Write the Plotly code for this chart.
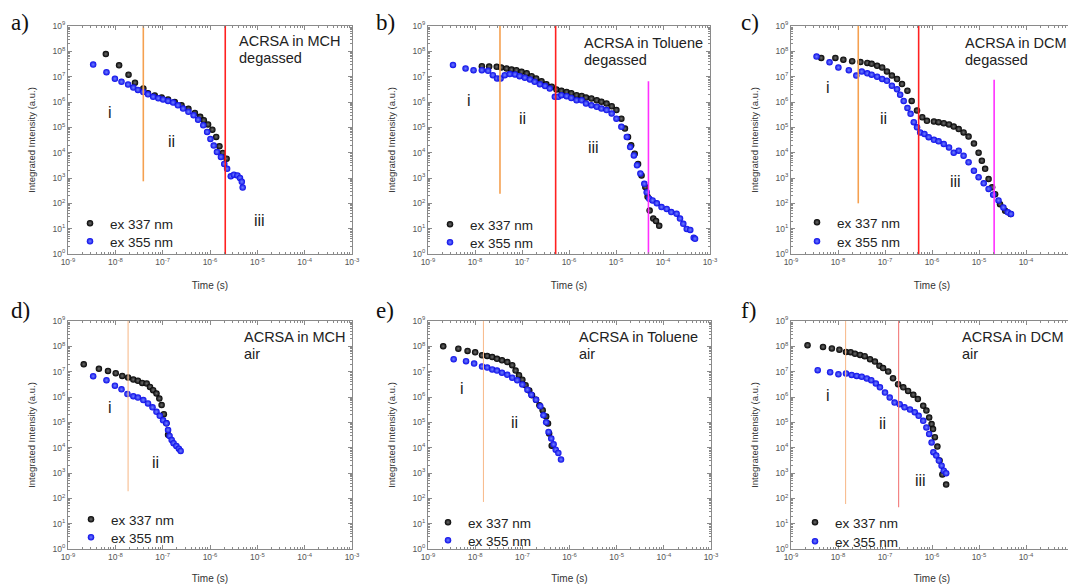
import plotly.graph_objects as go

# The page body has an 8px margin, so the figure is drawn 8px smaller and
# reference pixel positions are shifted by OFF.
OFF = 8
W, H = 1076 - OFF, 584 - OFF

# ---------------- data (time in s, integrated intensity in a.u.) ----------------
# a) ACRSA in MCH, degassed
t_a337 = [6.3e-9, 1.2e-8, 1.9e-8, 2.6e-8, 3.9e-8, 4.9e-8, 6.8e-8, 9.5e-8, 1.3e-7, 1.8e-7, 2.5e-7,
          3.5e-7, 4.8e-7, 6.2e-7, 7.4e-7, 9.1e-7, 1.12e-6, 1.35e-6, 1.58e-6, 1.86e-6, 2.24e-6]
I_a337 = [7.8e7, 2.8e7, 1.2e7, 5.8e6, 3.4e6, 2.2e6, 1.8e6, 1.5e6, 1.26e6, 1.0e6, 7.4e5,
          5.4e5, 3.7e5, 2.6e5, 1.9e5, 1.3e5, 8.1e4, 4.2e4, 1.8e4, 9.8e3, 5.8e3]
t_a355 = [3.4e-9, 6.5e-9, 9.8e-9, 1.35e-8, 1.86e-8, 2.4e-8, 3.0e-8, 3.9e-8, 4.9e-8, 6.3e-8, 8.1e-8,
          1.02e-7, 1.3e-7, 1.66e-7, 2.1e-7, 2.7e-7, 3.5e-7, 4.5e-7, 5.6e-7, 7.2e-7, 8.7e-7, 1.02e-6,
          1.2e-6, 1.4e-6, 1.7e-6, 2.0e-6, 2.3e-6, 2.75e-6, 3.2e-6, 3.8e-6, 4.3e-6, 4.7e-6, 4.9e-6]
I_a355 = [3.0e7, 1.5e7, 8.3e6, 6.3e6, 4.9e6, 3.7e6, 3.0e6, 2.5e6, 2.0e6, 1.6e6, 1.4e6,
          1.26e6, 1.1e6, 9.5e5, 7.4e5, 5.5e5, 4.1e5, 3.0e5, 2.0e5, 1.2e5, 6.6e4, 3.5e4,
          1.9e4, 1.07e4, 6.8e3, 3.6e3, 2.3e3, 1.17e3, 1.35e3, 1.26e3, 1.0e3, 7.1e2, 4.2e2]

# b) ACRSA in Toluene, degassed
t_b337 = [1.4e-8, 2.0e-8, 2.9e-8, 3.6e-8, 4.7e-8, 6.0e-8, 7.6e-8, 9.8e-8, 1.26e-7, 1.6e-7, 2.0e-7,
          2.6e-7, 3.3e-7, 4.3e-7, 5.4e-7, 6.9e-7, 8.9e-7, 1.12e-6, 1.45e-6, 1.86e-6, 2.3e-6, 3.0e-6,
          3.9e-6, 4.9e-6, 6.3e-6, 8.1e-6, 1.02e-5, 1.3e-5, 1.55e-5, 1.8e-5, 2.1e-5, 2.5e-5, 2.95e-5,
          3.5e-5, 4.2e-5, 4.7e-5, 5.2e-5, 6.2e-5, 7.1e-5, 8.3e-5]
I_b337 = [2.6e7, 2.5e7, 2.45e7, 2.3e7, 2.1e7, 1.9e7, 1.8e7, 1.55e7, 1.35e7, 1.05e7, 8.5e6,
          6.6e6, 5.0e6, 4.0e6, 3.1e6, 2.75e6, 2.5e6, 2.2e6, 1.86e6, 1.74e6, 1.5e6, 1.38e6,
          1.17e6, 1.02e6, 8.7e5, 6.8e5, 4.8e5, 2.2e5, 8.9e4, 4.2e4, 1.95e4, 9.1e3, 3.6e3,
          1.26e3, 4.4e2, 1.8e2, 52, 25, 20, 13]
t_b355 = [3.4e-9, 6.3e-9, 9.3e-9, 1.4e-8, 1.9e-8, 2.4e-8, 2.95e-8, 3.5e-8, 4.3e-8, 5.5e-8, 7.1e-8,
          8.9e-8, 1.15e-7, 1.48e-7, 1.86e-7, 2.4e-7, 3.1e-7, 3.9e-7, 5.0e-7, 5.9e-7, 6.9e-7, 8.9e-7,
          1.12e-6, 1.45e-6, 1.86e-6, 2.3e-6, 3.0e-6, 3.9e-6, 4.9e-6, 6.3e-6, 8.1e-6, 1.02e-5, 1.3e-5,
          1.7e-5, 2.0e-5, 2.4e-5, 2.8e-5, 3.3e-5, 4.0e-5, 4.5e-5, 5.1e-5, 6.0e-5, 7.4e-5, 9.3e-5,
          1.2e-4, 1.5e-4, 1.95e-4, 2.3e-4, 2.7e-4, 3.2e-4, 3.8e-4, 4.5e-4, 4.8e-4]
I_b355 = [2.9e7, 2.1e7, 1.8e7, 1.8e7, 1.7e7, 1.15e7, 8.5e6, 8.5e6, 1.15e7, 1.26e7, 1.23e7,
          1.05e7, 9.1e6, 7.8e6, 6.3e6, 5.0e6, 4.3e6, 3.4e6, 1.6e6, 1.6e6, 1.86e6, 1.7e6,
          1.45e6, 1.17e6, 1.17e6, 8.7e5, 7.4e5, 6.5e5, 5.5e5, 4.8e5, 3.5e5, 2.2e5, 1.05e5,
          4.2e4, 1.66e4, 7.8e3, 3.2e3, 1.5e3, 5.9e2, 2.75e2, 1.5e2, 1.3e2, 1.0e2, 71,
          60, 45, 39, 25, 15.5, 9.8, 8.9, 4.4, 4.0]

# c) ACRSA in DCM, degassed
t_c337 = [4.4e-9, 8.8e-9, 1.3e-8, 2.0e-8, 3.0e-8, 4.2e-8, 5.2e-8, 6.8e-8, 8.7e-8, 1.1e-7, 1.4e-7,
          1.8e-7, 2.3e-7, 3.0e-7, 3.7e-7, 4.8e-7, 6.2e-7, 7.8e-7, 1.1e-6, 1.38e-6, 1.78e-6, 2.3e-6,
          2.9e-6, 3.7e-6, 4.7e-6, 6.0e-6, 7.8e-6, 9.8e-6, 1.15e-5, 1.35e-5, 1.6e-5, 1.9e-5, 2.2e-5,
          2.8e-5, 3.6e-5, 4.7e-5]
I_c337 = [5.5e7, 5.5e7, 4.7e7, 4.1e7, 3.8e7, 3.5e7, 3.2e7, 2.7e7, 2.3e7, 1.6e7, 1.1e7,
          8.1e6, 5.1e6, 2.8e6, 1.1e6, 4.6e5, 2.5e5, 1.8e5, 1.7e5, 1.6e5, 1.45e5, 1.3e5,
          1.07e5, 8.5e4, 6.3e4, 4.3e4, 2.3e4, 1.0e4, 4.8e3, 2.3e3, 9.1e2, 4.3e2, 2.3e2,
          93, 51, 38]
t_c355 = [3.5e-9, 6.6e-9, 1.02e-8, 1.7e-8, 2.45e-8, 3.2e-8, 4.2e-8, 5.2e-8, 6.8e-8, 8.7e-8, 1.1e-7,
          1.4e-7, 1.8e-7, 2.1e-7, 2.5e-7, 3.0e-7, 3.5e-7, 4.1e-7, 4.8e-7, 5.6e-7, 6.9e-7, 8.5e-7,
          1.1e-6, 1.38e-6, 1.78e-6, 2.3e-6, 2.9e-6, 3.7e-6, 4.7e-6, 6.0e-6, 7.8e-6, 9.8e-6, 1.26e-5,
          1.6e-5, 2.0e-5, 2.6e-5, 3.3e-5, 4.1e-5, 4.8e-5]
I_c355 = [6.2e7, 3.7e7, 2.3e7, 1.8e7, 1.1e7, 1.6e7, 1.35e7, 1.2e7, 1.0e7, 8.1e6, 6.9e6,
          4.4e6, 3.2e6, 1.95e6, 1.1e6, 5.8e5, 3.4e5, 1.6e5, 1.0e5, 6.3e4, 5.5e4, 4.1e4,
          3.2e4, 2.8e4, 2.2e4, 1.6e4, 1.0e4, 1.2e4, 7.6e3, 4.2e3, 1.95e3, 1.07e3, 6.2e2,
          3.7e2, 2.2e2, 1.3e2, 69, 44, 38]

# d) ACRSA in MCH, air
t_d337 = [2.15e-9, 4.5e-9, 7.0e-9, 1.02e-8, 1.4e-8, 1.86e-8, 2.4e-8, 3.0e-8, 3.7e-8, 4.6e-8, 5.4e-8,
          6.3e-8, 7.4e-8, 8.5e-8, 9.5e-8, 1.06e-7, 1.2e-7, 1.3e-7]
I_d337 = [1.95e7, 1.3e7, 1.07e7, 8.7e6, 6.8e6, 5.9e6, 4.9e6, 4.4e6, 3.6e6, 3.4e6, 2.5e6,
          1.86e6, 1.38e6, 8.7e5, 4.8e5, 2.1e5, 9.1e4, 3.2e4]
t_d355 = [3.4e-9, 6.5e-9, 9.8e-9, 1.35e-8, 1.8e-8, 2.4e-8, 3.0e-8, 3.9e-8, 4.9e-8, 6.1e-8, 7.4e-8,
          8.7e-8, 1.02e-7, 1.2e-7, 1.3e-7, 1.4e-7, 1.55e-7, 1.7e-7, 1.95e-7, 2.2e-7, 2.4e-7]
I_d355 = [6.6e6, 4.6e6, 2.8e6, 2.0e6, 1.3e6, 1.07e6, 9.5e5, 7.6e5, 5.6e5, 3.9e5, 2.6e5,
          1.8e5, 1.2e5, 9.1e4, 5.0e4, 2.9e4, 2.0e4, 1.5e4, 1.17e4, 9.1e3, 7.4e3]

# e) ACRSA in Toluene, air
t_e337 = [2.1e-9, 4.4e-9, 6.9e-9, 1.0e-8, 1.4e-8, 1.8e-8, 2.3e-8, 2.9e-8, 3.7e-8, 4.8e-8, 6.1e-8,
          7.2e-8, 8.5e-8, 1.0e-7, 1.17e-7, 1.4e-7, 1.6e-7, 1.95e-7, 2.3e-7, 2.7e-7, 3.2e-7,
          3.5e-7, 3.7e-7, 4.2e-7]
I_e337 = [1.0e8, 8.1e7, 6.6e7, 5.8e7, 4.4e7, 4.2e7, 3.8e7, 3.2e7, 2.8e7, 2.4e7, 1.8e7,
          1.1e7, 7.2e6, 4.8e6, 2.9e6, 1.8e6, 1.17e6, 7.8e5, 4.7e5, 3.0e5, 1.7e5,
          8.9e4, 3.6e4, 1.2e4]
t_e355 = [3.5e-9, 6.4e-9, 9.5e-9, 1.4e-8, 1.8e-8, 2.3e-8, 2.9e-8, 3.7e-8, 4.8e-8, 6.1e-8, 7.8e-8,
          1.0e-7, 1.28e-7, 1.55e-7, 1.95e-7, 2.4e-7, 2.8e-7, 3.2e-7, 3.6e-7, 4.1e-7, 4.6e-7,
          5.1e-7, 5.8e-7, 6.6e-7]
I_e355 = [3.1e7, 2.6e7, 2.1e7, 1.6e7, 1.45e7, 1.23e7, 1.1e7, 9.1e6, 7.6e6, 5.8e6, 4.6e6,
          3.1e6, 1.95e6, 1.23e6, 7.8e5, 4.3e5, 1.9e5, 1.0e5, 4.2e4, 2.3e4, 1.35e4,
          8.3e3, 6.2e3, 3.4e3]

# f) ACRSA in DCM, air
t_f337 = [2.25e-9, 4.8e-9, 7.4e-9, 1.07e-8, 1.48e-8, 1.86e-8, 2.3e-8, 2.95e-8, 3.7e-8, 4.8e-8, 6.1e-8,
          7.6e-8, 9.1e-8, 1.17e-7, 1.48e-7, 1.9e-7, 2.45e-7, 3.1e-7, 4.0e-7, 5.0e-7, 6.5e-7,
          7.6e-7, 8.7e-7, 9.8e-7, 1.05e-6, 1.15e-6, 1.3e-6, 1.45e-6, 1.66e-6, 2.0e-6]
I_f337 = [1.1e8, 9.5e7, 8.3e7, 7.4e7, 6.0e7, 5.9e7, 5.1e7, 4.6e7, 4.1e7, 3.1e7, 2.5e7,
          1.7e7, 1.38e7, 1.02e7, 5.5e6, 3.2e6, 2.4e6, 1.74e6, 1.23e6, 8.3e5, 4.5e5,
          2.9e5, 1.55e5, 8.5e4, 5.4e4, 2.6e4, 1.1e4, 3.1e3, 8.7e2, 3.5e2]
t_f355 = [3.7e-9, 6.8e-9, 1.02e-8, 1.48e-8, 1.95e-8, 2.5e-8, 3.2e-8, 4.1e-8, 5.1e-8, 6.4e-8, 7.8e-8,
          1.0e-7, 1.26e-7, 1.6e-7, 2.05e-7, 2.6e-7, 3.4e-7, 4.3e-7, 5.2e-7, 6.5e-7, 7.6e-7,
          8.7e-7, 9.8e-7, 1.07e-6, 1.23e-6, 1.4e-6, 1.6e-6, 1.78e-6, 2.0e-6]
I_f355 = [1.15e7, 9.5e6, 7.9e6, 8.5e6, 7.4e6, 6.8e6, 6.3e6, 5.4e6, 4.6e6, 3.4e6, 2.4e6,
          1.5e6, 9.5e5, 6.0e5, 5.2e5, 3.9e5, 3.2e5, 2.5e5, 1.8e5, 1.15e5, 6.3e4,
          3.5e4, 1.6e4, 6.6e3, 4.9e3, 3.1e3, 1.95e3, 1.23e3, 9.8e2]

# region boundaries: (time, lower intensity end, upper intensity end)
bound_a = [(3.9e-8, 7.4e2, 1e9), (2.1e-6, 1, 1e9)]
bound_b = [(3.4e-8, 2.4e2, 1e9), (5.2e-7, 1, 1e9), (4.9e-5, 1, 6.6e6)]
bound_c = [(2.7e-8, 1.0e2, 1e9), (5.2e-7, 1, 1e9), (2.1e-5, 1, 7.6e6)]
bound_d = [(1.86e-8, 1.9e2, 1e9)]
bound_e = [(1.5e-8, 72, 1e9)]
bound_f = [(1.45e-8, 60, 1e9), (1.95e-7, 44, 1e9)]

titles = [("ACRSA in MCH", "degassed"), ("ACRSA in Toluene", "degassed"), ("ACRSA in DCM", "degassed"),
          ("ACRSA in MCH", "air"), ("ACRSA in Toluene", "air"), ("ACRSA in DCM", "air")]
panel_letters = ["a)", "b)", "c)", "d)", "e)", "f)"]
region_labels = [["i", "ii", "iii"], ["i", "ii", "iii"], ["i", "ii", "iii"],
                 ["i", "ii"], ["i", "ii"], ["i", "ii", "iii"]]
series_names = ["ex 337 nm", "ex 355 nm"]
x_exps = list(range(-9, -2))
y_exps = list(range(0, 10))

# ---------------- styling / layout ----------------
LINE_COLS = {
    "a": ["#f5a050", "#ff2020"],
    "b": ["#f5a050", "#ff2020", "#ff30ff"],
    "c": ["#f5a050", "#ff2020", "#ff30ff"],
    "d": ["#f8bd90"],
    "e": ["#f8bd90"],
    "f": ["#f8bd90", "#f27a7a"],
}
# reference pixel boxes of plot areas: (x0, x1, ytop, ybottom)
boxes = [(68, 352, 26, 254), (428, 710, 26, 254), (791, 1073, 26, 254),
         (68, 352, 321, 549), (428, 711, 321, 549), (791, 1073, 321, 549)]
# reference pixel positions of text elements
title_pos = [(237, 41), (582, 43), (963, 43), (242, 337), (577, 337), (960, 337)]  # first-line centre
TITLE_GAP = 17
letter_pos = [(9, 22), (374, 22), (739, 22), (9, 310), (374, 310), (739, 310)]
region_pos = [[(110, 113), (172, 142), (259, 220)],
              [(469, 100), (522, 118), (593, 147)],
              [(828, 88), (883, 118), (955, 182)],
              [(110, 407), (155, 462)],
              [(462, 388), (514, 422)],
              [(828, 395), (882, 423), (920, 480)]]
# legend symbol centres of the two legend rows
legend_pos = [[(90, 220), (90, 238)], [(450, 221), (450, 239)], [(817, 219), (817, 238)],
              [(91, 516), (91, 534)], [(448, 519), (448, 537)], [(815, 519), (815, 538)]]


def px(x):
    return (x - OFF) / W


def py(y):
    return 1 - (y - OFF) / H


data = [
    ("a", t_a337, I_a337, t_a355, I_a355, bound_a),
    ("b", t_b337, I_b337, t_b355, I_b355, bound_b),
    ("c", t_c337, I_c337, t_c355, I_c355, bound_c),
    ("d", t_d337, I_d337, t_d355, I_d355, bound_d),
    ("e", t_e337, I_e337, t_e355, I_e355, bound_e),
    ("f", t_f337, I_f337, t_f355, I_f355, bound_f),
]

SANS = "Liberation Sans, Arial, sans-serif"
SERIF = "Liberation Serif, Times New Roman, serif"

marker_black = dict(size=6.5, color="#000000", line=dict(width=0),
                    gradient=dict(type="radial", color="#6e6e6e"))
marker_blue = dict(size=6.5, color="#0a0ae8", line=dict(width=0),
                   gradient=dict(type="radial", color="#7080ff"))

fig = go.Figure()
layout = dict(width=W, height=H, margin=dict(l=0, r=0, t=0, b=0, autoexpand=False),
              paper_bgcolor="white", plot_bgcolor="white", showlegend=True)
annotations = []

x_minor = [m * 10.0 ** k for k in range(-9, -3) for m in range(2, 10)]
y_minor = [m * 10.0 ** k for k in range(0, 9) for m in range(2, 10)]

for i, (key, t1, I1, t2, I2, bounds) in enumerate(data):
    n = "" if i == 0 else str(i + 1)
    xa, ya = "x" + n, "y" + n
    legs = []
    for j in range(2):
        k = 2 * i + j + 1
        legs.append("legend" if k == 1 else f"legend{k}")
    wline = 1.6 if i < 3 else 1.1

    fig.add_trace(go.Scatter(x=t1, y=I1, mode="markers", name=series_names[0],
                             xaxis=xa, yaxis=ya, legend=legs[0], marker=marker_black))
    fig.add_trace(go.Scatter(x=t2, y=I2, mode="markers", name=series_names[1],
                             xaxis=xa, yaxis=ya, legend=legs[1], marker=marker_blue))
    for (tb, lo, hi), col in zip(bounds, LINE_COLS[key]):
        fig.add_trace(go.Scatter(x=[tb, tb], y=[lo, hi], mode="lines", xaxis=xa, yaxis=ya,
                                 line=dict(color=col, width=wline), showlegend=False,
                                 hoverinfo="skip"))

    x0, x1, yt, yb = boxes[i]
    common = dict(type="log", showgrid=False, zeroline=False, showline=True, automargin=False,
                  linecolor="#8a8a8a", linewidth=1, mirror="allticks",
                  ticks="inside", ticklen=4, tickcolor="#8a8a8a", tickwidth=1,
                  tickfont=dict(family=SANS, size=8.5, color="#555555"))
    layout["xaxis" + n] = dict(
        common, domain=[px(x0), px(x1)], anchor=ya, range=[-9, -3],
        tickmode="array", tickvals=[10.0 ** e for e in x_exps],
        ticktext=[f"10<sup>{e}</sup>" for e in x_exps],
        minor=dict(tickmode="array", tickvals=x_minor, ticks="inside", ticklen=2,
                   tickcolor="#8a8a8a"),
        title=dict(text="Time (s)", font=dict(family=SANS, size=10, color="#333333")))
    layout["yaxis" + n] = dict(
        common, domain=[py(yb), py(yt)], anchor=xa, range=[0, 9],
        tickmode="array", tickvals=[10.0 ** e for e in y_exps],
        ticktext=[f"10<sup>{e}</sup>" for e in y_exps],
        minor=dict(tickmode="array", tickvals=y_minor, ticks="inside", ticklen=2,
                   tickcolor="#8a8a8a"),
        title=dict(text="Integrated Intensity (a.u.)",
                   font=dict(family=SANS, size=9.5, color="#333333")))

    for leg, (bx, by) in zip(legs, legend_pos[i]):
        layout[leg] = dict(x=px(bx - 20), y=py(by - 12), xanchor="left", yanchor="top",
                           bgcolor="rgba(0,0,0,0)", borderwidth=0,
                           font=dict(family=SANS, size=13.5, color="#222222"), itemwidth=30)

    tx, ty = title_pos[i]
    for k, line in enumerate(titles[i]):
        annotations.append(dict(xref="paper", yref="paper", x=px(tx), y=py(ty + k * TITLE_GAP),
                                xanchor="left", yanchor="middle", showarrow=False, text=line,
                                font=dict(family=SANS, size=14.5, color="#222222")))
    lx, ly = letter_pos[i]
    annotations.append(dict(xref="paper", yref="paper", x=px(lx), y=py(ly),
                            xanchor="left", yanchor="middle", showarrow=False,
                            text=panel_letters[i],
                            font=dict(family=SERIF, size=23, color="#111111")))
    for lab, (rx, ry) in zip(region_labels[i], region_pos[i]):
        annotations.append(dict(xref="paper", yref="paper", x=px(rx), y=py(ry),
                                xanchor="center", yanchor="middle", showarrow=False,
                                text=lab, font=dict(family=SANS, size=16, color="#222222")))

layout["annotations"] = annotations
fig.update_layout(**layout)
fig.write_html("out.html")
